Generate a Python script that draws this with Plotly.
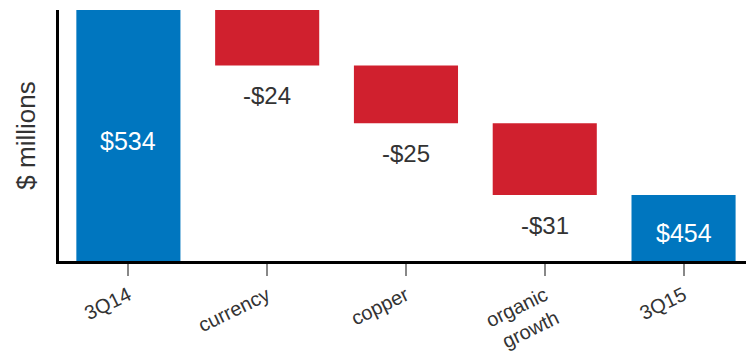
import plotly.graph_objects as go

# Quarterly sales bridge, $ millions
categories = ["3Q14", "currency", "copper", "organic<br>growth", "3Q15"]
values = [534, -24, -25, -31, 454]
measures = ["absolute", "relative", "relative", "relative", "total"]

BLUE = "#0076BF"
RED = "#D0202E"
TEXT = "#333333"
FONT = "Arial, Liberation Sans, sans-serif"

Y_MIN, Y_MAX = 425.5, 534

fig = go.Figure(
    go.Waterfall(
        x=categories,
        y=values,
        measure=measures,
        width=0.75,
        totals=dict(marker=dict(color=BLUE)),
        decreasing=dict(marker=dict(color=RED)),
        increasing=dict(marker=dict(color=BLUE)),
        connector=dict(visible=False),
        textinfo="none",
        hoverinfo="skip",
    )
)

# value labels: white inside the totals, dark below each step
running = 0
for cat, val, m in zip(categories, values, measures):
    if m == "relative":
        running += val
        fig.add_annotation(
            x=cat, y=running, yshift=-30, text=f"-${abs(val)}",
            showarrow=False, font=dict(size=24, color=TEXT, family=FONT),
        )
    else:
        running = val
        fig.add_annotation(
            x=cat, y=(val + Y_MIN) / 2, yshift=-5, text=f"${val}",
            showarrow=False, font=dict(size=25, color="white", family=FONT),
        )

fig.update_layout(
    width=746, height=357,
    margin=dict(l=59, r=0, t=10, b=96),
    paper_bgcolor="white", plot_bgcolor="white",
    showlegend=False,
    font=dict(family=FONT, color=TEXT),
    xaxis=dict(
        range=[-0.5, 4.45],
        showline=True, linecolor="black", linewidth=3,
        ticks="outside", ticklen=12, tickcolor="#888888", tickwidth=2,
        tickangle=-26, tickfont=dict(size=20, color=TEXT),
        showgrid=False, zeroline=False,
    ),
    yaxis=dict(
        range=[Y_MIN, Y_MAX],
        showline=True, linecolor="black", linewidth=3,
        showticklabels=False, ticks="", showgrid=False, zeroline=False,
        title=dict(text="$ millions", font=dict(size=26, color=TEXT), standoff=13),
    ),
)

fig.write_html("out.html")
